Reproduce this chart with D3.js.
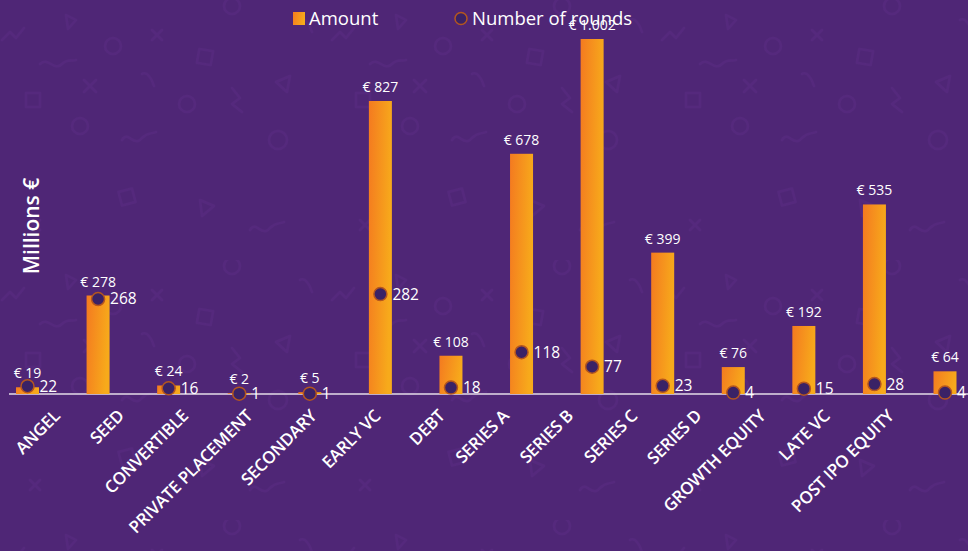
<!DOCTYPE html>
<html>
<head>
<meta charset="utf-8">
<script src="https://cdn.jsdelivr.net/npm/d3@7"></script>
<style>
  html, body { margin: 0; padding: 0; background: #4f2676; }
  svg { display: block; font-family: "Open Sans", "Noto Sans", sans-serif; }
</style>
</head>
<body>
<div id="chart"></div>
<script>
// data
var categories = ["ANGEL", "SEED", "CONVERTIBLE", "PRIVATE PLACEMENT", "SECONDARY", "EARLY VC",
  "DEBT", "SERIES A", "SERIES B", "SERIES C", "SERIES D", "GROWTH EQUITY", "LATE VC", "POST IPO EQUITY"];
var amounts = [19, 278, 24, 2, 5, 827, 108, 678, 1002, 399, 76, 192, 535, 64];
var rounds = [22, 268, 16, 1, 1, 282, 18, 118, 77, 23, 4, 15, 28, 4];
var legendLabels = ["Amount", "Number of rounds"];

var width = 968, height = 551;
var baseY = 394, topY = 39;
var barW = 23;

var svg = d3.select("#chart").append("svg")
  .attr("width", width)
  .attr("height", height);

var defs = svg.append("defs");

var grad = defs.append("linearGradient")
  .attr("id", "barGrad")
  .attr("x1", "0").attr("y1", "0").attr("x2", "1").attr("y2", "0.25");
grad.append("stop").attr("offset", "0%").attr("stop-color", "#f47a20");
grad.append("stop").attr("offset", "100%").attr("stop-color", "#f7aa1b");

// faint doodle pattern in the background
var pat = defs.append("pattern")
  .attr("id", "doodles")
  .attr("patternUnits", "userSpaceOnUse")
  .attr("width", 330).attr("height", 260);
var pg = pat.append("g")
  .attr("fill", "none")
  .attr("stroke", "#55297d")
  .attr("stroke-width", 2.5)
  .attr("stroke-linecap", "round")
  .attr("stroke-linejoin", "round");
pg.append("circle").attr("cx", 113).attr("cy", 46).attr("r", 8);
pg.append("circle").attr("cx", 187).attr("cy", 104).attr("r", 8);
pg.append("circle").attr("cx", 80).attr("cy", 126).attr("r", 8);
pg.append("circle").attr("cx", 278).attr("cy", 140).attr("r", 9);
pg.append("circle").attr("cx", 232).attr("cy", 6).attr("r", 8);
pg.append("path").attr("d", "M152,30 l10,10 M162,30 l-10,10");
pg.append("path").attr("d", "M84,80 l12,12 M96,80 l-12,12");
pg.append("path").attr("d", "M30,220 l10,10 M40,220 l-10,10");
pg.append("path").attr("d", "M66,15 l10,5 l-8,9 z");
pg.append("path").attr("d", "M276,82 l14,-6 l-3,16 z");
pg.append("path").attr("d", "M200,200 l14,6 l-12,10 z");
pg.append("rect").attr("x", 198).attr("y", 50).attr("width", 14).attr("height", 14).attr("transform", "rotate(10,205,57)");
pg.append("rect").attr("x", 26).attr("y", 93).attr("width", 14).attr("height", 14);
pg.append("rect").attr("x", 120).attr("y", 190).attr("width", 14).attr("height", 14).attr("transform", "rotate(-15,127,197)");
pg.append("path").attr("d", "M40,64 c8,-8 14,8 22,0 c6,-6 10,-2 14,-4");
pg.append("path").attr("d", "M122,140 c6,-10 12,8 20,-2 c6,-6 10,-4 14,-6");
pg.append("path").attr("d", "M250,230 c6,-10 12,8 20,-2 c6,-6 10,-4 14,-6");
pg.append("path").attr("d", "M142,74 c5,-3 10,5 12,12");
pg.append("path").attr("d", "M300,20 c5,-3 10,5 12,12");
pg.append("path").attr("d", "M232,88 l8,10 l-8,6 l10,8");
pg.append("path").attr("d", "M2,40 l8,-8 l6,6 l8,-10");

svg.append("rect")
  .attr("width", width).attr("height", height)
  .attr("fill", "#4f2676");
svg.append("rect")
  .attr("width", width).attr("height", height)
  .attr("fill", "url(#doodles)");

// scales
var x = d3.scalePoint()
  .domain(categories)
  .range([27.5, 945]);

// tick labels are packed a little tighter than the bars
var xLabel = d3.scalePoint()
  .domain(categories)
  .range([61, 895]);

var y = d3.scaleLinear()
  .domain([0, d3.max(amounts)])
  .range([baseY, topY]);

var fmt = d3.formatLocale({ decimal: ",", thousands: ".", grouping: [3], currency: ["€ ", ""] }).format(",d");

// baseline
svg.append("line")
  .attr("x1", 9).attr("x2", width)
  .attr("y1", baseY).attr("y2", baseY)
  .attr("stroke", "#e4dde8")
  .attr("stroke-width", 1.5);

// bars
var g = svg.append("g");
g.selectAll(".bar")
  .data(amounts)
  .enter().append("rect")
  .attr("class", "bar")
  .attr("x", function (d, i) { return x(categories[i]) - barW / 2; })
  .attr("y", function (d) { return y(d); })
  .attr("width", barW)
  .attr("height", function (d) { return baseY - y(d); })
  .attr("fill", "url(#barGrad)");

// amount labels
g.selectAll(".amt")
  .data(amounts)
  .enter().append("text")
  .attr("class", "amt")
  .attr("x", function (d, i) { return x(categories[i]); })
  .attr("y", function (d) { return y(d) - 9; })
  .attr("text-anchor", "middle")
  .attr("fill", "#ffffff")
  .style("font-size", "14px")
  .text(function (d) { return "€ " + fmt(d); });

// rounds markers
g.selectAll(".dot")
  .data(rounds)
  .enter().append("circle")
  .attr("class", "dot")
  .attr("cx", function (d, i) { return x(categories[i]); })
  .attr("cy", function (d) { return y(d); })
  .attr("r", 6.5)
  .attr("fill", "#3a2266")
  .attr("stroke", "#b4561f")
  .attr("stroke-width", 1.5);

g.selectAll(".rnd")
  .data(rounds)
  .enter().append("text")
  .attr("class", "rnd")
  .attr("x", function (d, i) { return x(categories[i]) + 12; })
  .attr("y", function (d) { return y(d); })
  .attr("dy", "0.35em")
  .attr("fill", "#ffffff")
  .style("font-size", "15.5px")
  .text(function (d) { return d; });

// category labels
svg.append("g").selectAll(".cat")
  .data(categories)
  .enter().append("text")
  .attr("class", "cat")
  .attr("transform", function (d) { return "translate(" + xLabel(d) + ",417) rotate(-45)"; })
  .attr("text-anchor", "end")
  .attr("fill", "#ffffff")
  .style("font-size", "17px")
  .style("font-weight", 600)
  .style("letter-spacing", "-0.3px")
  .text(function (d) { return d; });

// y axis title
svg.append("text")
  .attr("transform", "translate(39,226) rotate(-90)")
  .attr("text-anchor", "middle")
  .attr("fill", "#ffffff")
  .style("font-size", "21px")
  .style("font-weight", 600)
  .text("Millions €");

// legend
var lg = svg.append("g").attr("transform", "translate(293,12)");
lg.append("rect")
  .attr("width", 12).attr("height", 13)
  .attr("fill", "url(#barGrad)");
lg.append("text")
  .attr("x", 16).attr("y", 6.5).attr("dy", "0.35em")
  .attr("fill", "#ffffff")
  .style("font-size", "18.5px")
  .text(legendLabels[0]);
lg.append("circle")
  .attr("cx", 168).attr("cy", 6.5).attr("r", 6)
  .attr("fill", "#3a2266")
  .attr("stroke", "#b4561f")
  .attr("stroke-width", 1.5);
lg.append("text")
  .attr("x", 179).attr("y", 6.5).attr("dy", "0.35em")
  .attr("fill", "#ffffff")
  .style("font-size", "18.5px")
  .text(legendLabels[1]);
</script>
</body>
</html>
